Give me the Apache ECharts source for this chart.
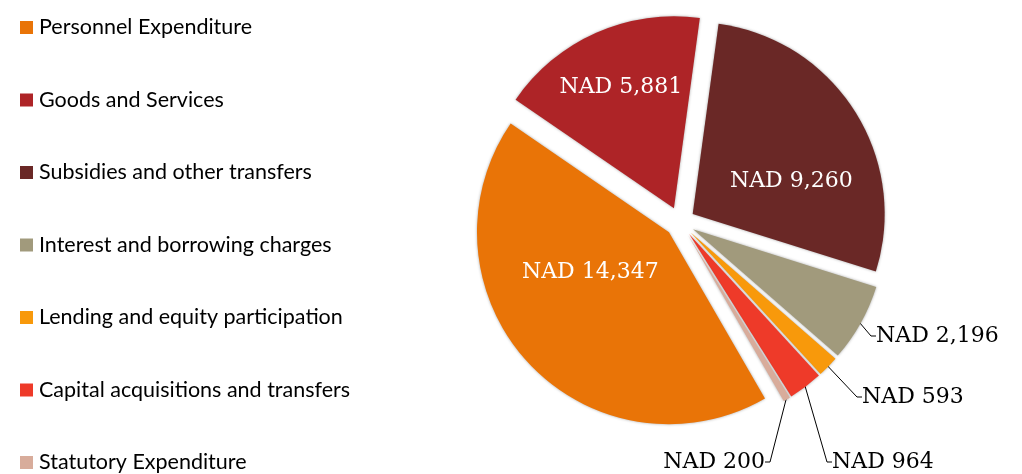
<!DOCTYPE html>
<html>
<head>
<meta charset="utf-8">
<script src="https://cdn.jsdelivr.net/npm/echarts@6/dist/echarts.min.js"></script>
<style>
    html, body { margin: 0; padding: 0; background: #fff; }
    #main { width: 1022px; height: 474px; }
</style>
</head>
<body>
<div id="main"></div>
<script>
// categories and values (NAD million)
const categories = [
    'Personnel Expenditure',
    'Goods and Services',
    'Subsidies and other transfers',
    'Interest and borrowing charges',
    'Lending and equity participation',
    'Capital acquisitions and transfers',
    'Statutory Expenditure'
];
const values = [14347, 5881, 9260, 2196, 593, 964, 200];
const colors = ['#E97407', '#AE2427', '#6A2826', '#A19A7C', '#F8990B', '#EE3A29', '#D8AC9B'];

// label nudges / outside label anchors
const insideShift = [[-6, -27], [-13, -30], [15, 20]];
const outsideAnchor = [null, null, null,
    { x: 876, y: 336, align: 'left' },
    { x: 862, y: 397, align: 'left' },
    { x: 832, y: 462, align: 'left' },
    { x: 765, y: 462, align: 'right' }];

let chart = echarts.init(document.getElementById('main'));

const fmt = p => 'NAD ' + p.value.toLocaleString('en-US');

let sliceData = categories.map((name, i) => ({
    name: name,
    value: values[i],
    selected: true,
    itemStyle: { color: colors[i] },
    label: { show: i < 3 }
}));

// transparent copy of the pie, only carries the outside labels
let labelData = categories.map((name, i) => ({
    name: name,
    value: values[i],
    label: { show: i >= 3 },
    labelLine: { show: i >= 3 }
}));

let option = {
    animation: false,
    legend: {
        orient: 'vertical',
        left: 20,
        top: 16.5,
        height: 520,
        padding: 0,
        itemWidth: 13,
        itemHeight: 13,
        itemGap: 50.5,
        icon: 'rect',
        selectedMode: false,
        data: categories,
        textStyle: {
            fontFamily: 'Lato',
            fontSize: 21.5,
            lineHeight: 22,
            color: '#000',
            padding: [0, 0, 0, 1]
        }
    },
    series: [
        {
            type: 'pie',
            center: [680, 222],
            radius: [0, 192],
            startAngle: -60,
            clockwise: true,
            selectedMode: 'multiple',
            selectedOffset: 15,
            avoidLabelOverlap: false,
            itemStyle: {
                shadowBlur: 3,
                shadowColor: 'rgba(0,0,0,0.35)'
            },
            emphasis: { disabled: true },
            label: {
                position: 'inside',
                formatter: fmt,
                color: '#fff',
                fontFamily: 'DejaVu Serif',
                fontSize: 22
            },
            labelLine: { show: false },
            labelLayout: function (params) {
                let s = insideShift[params.dataIndex];
                return s ? { dx: s[0], dy: s[1] } : {};
            },
            data: sliceData
        },
        {
            type: 'pie',
            silent: true,
            center: [680, 222],
            radius: [0, 206],
            startAngle: -60,
            clockwise: true,
            avoidLabelOverlap: false,
            itemStyle: { color: 'rgba(0,0,0,0)' },
            emphasis: { disabled: true },
            label: {
                position: 'outside',
                formatter: fmt,
                color: '#000',
                fontFamily: 'DejaVu Serif',
                fontSize: 22
            },
            labelLine: {
                length: 10,
                length2: 5,
                lineStyle: { color: '#000', width: 1 }
            },
            labelLayout: function (params) {
                let a = outsideAnchor[params.dataIndex];
                if (!a) return {};
                return { x: a.x, y: a.y, align: a.align, verticalAlign: 'middle' };
            },
            data: labelData
        }
    ]
};
chart.setOption(option);
</script>
</body>
</html>
